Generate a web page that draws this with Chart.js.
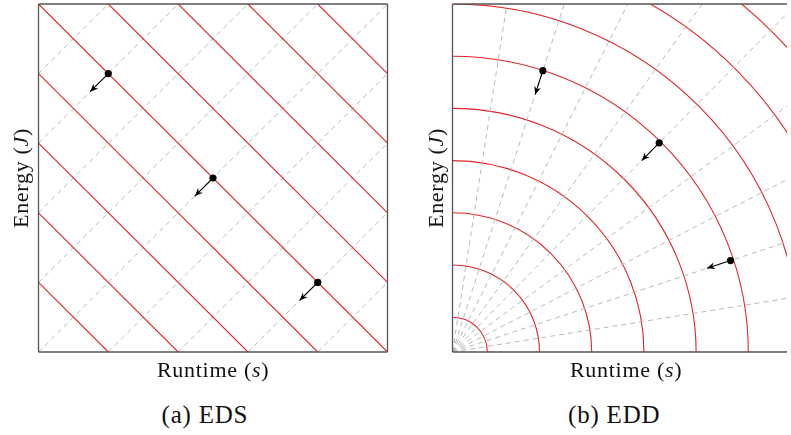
<!DOCTYPE html>
<html>
<head>
<meta charset="utf-8">
<script src="https://cdn.jsdelivr.net/npm/chart.js@4/dist/chart.umd.min.js"></script>
<style>
  html, body { margin: 0; padding: 0; width: 791px; height: 435px; overflow: hidden; background: #fff; }
  .cv { position: absolute; }
  .lbl { position: absolute; font-family: "Liberation Serif", "Times New Roman", serif; font-size: 22px; color: #111; white-space: nowrap; line-height: 1; letter-spacing: 0.7px; }
  .lbl i { font-style: italic; }
  .cap { font-size: 25px; letter-spacing: 0.8px; }
</style>
</head>
<body>
<canvas id="eds" class="cv" style="left:30px; top:0px;"></canvas>
<canvas id="edd" class="cv" style="left:440px; top:0px;"></canvas>

<div class="lbl" id="xl1">Runtime (<i>s</i>)</div>
<div class="lbl" id="xl2">Runtime (<i>s</i>)</div>
<div class="lbl" id="yl1">Energy (<i>J</i>)</div>
<div class="lbl" id="yl2">Energy (<i>J</i>)</div>
<div class="lbl cap" id="c1">(a) EDS</div>
<div class="lbl cap" id="c2">(b) EDD</div>

<script>
// ---------------- data ----------------
// (a) EDS: iso-cost lines  runtime + energy = level
const edsIsoLevels = [0.2, 0.4, 0.6, 0.8, 1.0, 1.2, 1.4, 1.6, 1.8];
// guide lines  energy - runtime = offset
const edsGuideOffsets = [-0.8, -0.6, -0.4, -0.2, 0.0, 0.2, 0.4, 0.6, 0.8];
// sample configurations
const edsPointRuntime = [0.2, 0.5, 0.8];
const edsPointEnergy  = [0.8, 0.5, 0.2];
// gradient step (runtime, energy)
const edsStepRuntime = [-0.052, -0.052, -0.052];
const edsStepEnergy  = [-0.052, -0.052, -0.052];

// (b) EDD: iso-cost arcs  sqrt(runtime^2 + energy^2) = radius
const eddIsoRadii = [0.1, 0.25, 0.4, 0.55, 0.7, 0.85, 1.0, 1.15, 1.3, 1.45];
// radial guide directions (degrees)
const eddGuideAngles = [0, 9, 18, 27, 36, 45, 54, 63, 72, 81, 90];
// sample configurations (polar: radius, angle in degrees)
const eddPointRadius = [0.85, 0.85, 0.85];
const eddPointAngle  = [72, 45, 18];
const eddStepLength  = [0.072, 0.072, 0.072];

// ---------------- styles ----------------
const RED = 'rgb(226,38,38)';
const GRAY = 'rgb(185,185,185)';
const FRAME = 'rgb(85,85,85)';

// ---------------- helpers ----------------
function clipSegmentSum(c) {           // x + y = c inside unit square
  return c <= 1 ? [{x: 0, y: c}, {x: c, y: 0}] : [{x: c - 1, y: 1}, {x: 1, y: c - 1}];
}
function clipSegmentDiff(d) {          // y - x = d inside unit square
  return d >= 0 ? [{x: 0, y: d}, {x: 1 - d, y: 1}] : [{x: -d, y: 0}, {x: 1, y: 1 + d}];
}
const rad = a => a * Math.PI / 180;

function framePlugin(sides) {
  return {
    id: 'frame',
    afterDraw(chart) {
      const {ctx, chartArea: a} = chart;
      ctx.save();
      ctx.strokeStyle = FRAME;
      ctx.lineWidth = 1.3;
      ctx.beginPath();
      if (sides.includes('l')) { ctx.moveTo(a.left, a.top); ctx.lineTo(a.left, a.bottom); }
      if (sides.includes('b')) { ctx.moveTo(a.left, a.bottom); ctx.lineTo(a.right, a.bottom); }
      if (sides.includes('t')) { ctx.moveTo(a.left, a.top); ctx.lineTo(a.right, a.top); }
      if (sides.includes('r')) { ctx.moveTo(a.right, a.top); ctx.lineTo(a.right, a.bottom); }
      ctx.stroke();
      ctx.restore();
    }
  };
}

const arrowHeadPlugin = {
  id: 'arrowHeads',
  afterDatasetsDraw(chart) {
    const {ctx} = chart;
    const xs = chart.scales.x, ys = chart.scales.y;
    chart.data.datasets.forEach(ds => {
      if (!ds.isArrow) return;
      const p0 = ds.data[0], p1 = ds.data[1];
      const x0 = xs.getPixelForValue(p0.x), y0 = ys.getPixelForValue(p0.y);
      const x1 = xs.getPixelForValue(p1.x), y1 = ys.getPixelForValue(p1.y);
      const ang = Math.atan2(y1 - y0, x1 - x0);
      const L = 8, W = 3.4;
      ctx.save();
      ctx.fillStyle = '#000';
      ctx.translate(x1, y1);
      ctx.rotate(ang);
      ctx.beginPath();
      ctx.moveTo(0, 0);
      ctx.lineTo(-L, -W);
      ctx.lineTo(-L * 0.7, 0);
      ctx.lineTo(-L, W);
      ctx.closePath();
      ctx.fill();
      ctx.restore();
    });
  }
};

const arcsPlugin = {
  id: 'isoArcs',
  beforeDatasetsDraw(chart) {
    const {ctx, chartArea: a} = chart;
    const xs = chart.scales.x, ys = chart.scales.y;
    const cx = xs.getPixelForValue(0), cy = ys.getPixelForValue(0);
    ctx.save();
    ctx.beginPath();
    ctx.rect(a.left, a.top, a.right - a.left, a.bottom - a.top);
    ctx.clip();
    ctx.strokeStyle = RED;
    ctx.lineWidth = 1.1;
    eddIsoRadii.forEach(r => {
      const pr = cy - ys.getPixelForValue(r);
      ctx.beginPath();
      ctx.arc(cx, cy, pr, -Math.PI / 2, 0);
      ctx.stroke();
    });
    ctx.restore();
  }
};

function lineDs(points, color, dash, width, order) {
  return {
    type: 'line', data: points, borderColor: color, borderWidth: width,
    borderDash: dash, pointRadius: 0, fill: false, tension: 0, clip: 0, order: order
  };
}

const commonOptions = (xmax, pad) => ({
  responsive: false,
  animation: false,
  events: [],
  layout: { padding: pad },
  plugins: { legend: { display: false }, tooltip: { enabled: false } },
  scales: {
    x: { type: 'linear', min: 0, max: xmax, display: false },
    y: { type: 'linear', min: 0, max: 1, display: false }
  }
});

// ---------------- (a) EDS ----------------
{
  const ds = [];
  edsGuideOffsets.forEach(d => ds.push(lineDs(clipSegmentDiff(d), GRAY, [5, 4], 1, 5)));
  edsIsoLevels.forEach(c => ds.push(lineDs(clipSegmentSum(c), RED, [], 1.1, 4)));
  edsPointRuntime.forEach((x, i) => {
    const y = edsPointEnergy[i];
    const a = lineDs([{x, y}, {x: x + edsStepRuntime[i], y: y + edsStepEnergy[i]}], '#000', [], 1.1, 2);
    a.isArrow = true;
    ds.push(a);
  });
  ds.push({
    type: 'scatter',
    data: edsPointRuntime.map((x, i) => ({x, y: edsPointEnergy[i]})),
    pointRadius: 3.6, pointBackgroundColor: '#000', pointBorderWidth: 0, order: 1
  });
  const cv = document.getElementById('eds');
  cv.width = 370; cv.height = 360;
  new Chart(cv, {
    type: 'scatter',
    data: { datasets: ds },
    options: commonOptions(1, { left: 8.5, top: 4, right: 12.5, bottom: 8 }),
    plugins: [arrowHeadPlugin, framePlugin('lbtr')]
  });
}

// ---------------- (b) EDD ----------------
{
  const xmax = 338.5 / 348;
  const ds = [];
  eddGuideAngles.forEach(a => ds.push(lineDs([{x: 0, y: 0}, {x: 1.6 * Math.cos(rad(a)), y: 1.6 * Math.sin(rad(a))}], GRAY, [5, 4], 1, 5)));
  eddPointRadius.forEach((r, i) => {
    const t = rad(eddPointAngle[i]);
    const r2 = r - eddStepLength[i];
    const a = lineDs([{x: r * Math.cos(t), y: r * Math.sin(t)}, {x: r2 * Math.cos(t), y: r2 * Math.sin(t)}], '#000', [], 1.1, 2);
    a.isArrow = true;
    ds.push(a);
  });
  ds.push({
    type: 'scatter',
    data: eddPointRadius.map((r, i) => ({x: r * Math.cos(rad(eddPointAngle[i])), y: r * Math.sin(rad(eddPointAngle[i]))})),
    pointRadius: 3.6, pointBackgroundColor: '#000', pointBorderWidth: 0, order: 1
  });
  const cv = document.getElementById('edd');
  cv.width = 351; cv.height = 360;
  new Chart(cv, {
    type: 'scatter',
    data: { datasets: ds },
    options: commonOptions(xmax, { left: 12.5, top: 4, right: 0, bottom: 8 }),
    plugins: [arcsPlugin, arrowHeadPlugin, framePlugin('lbt')]
  });
}

// ---------------- labels ----------------
function place(id, cx, cy, rot) {
  const el = document.getElementById(id);
  const w = el.offsetWidth, h = el.offsetHeight;
  el.style.left = (cx - w / 2) + 'px';
  el.style.top = (cy - h / 2) + 'px';
  if (rot) el.style.transform = 'rotate(' + rot + 'deg)';
}
place('xl1', 213, 370);
place('xl2', 626, 370);
place('yl1', 21, 178, -90);
place('yl2', 436, 178, -90);
place('c1', 205, 414);
place('c2', 614, 414);
</script>
</body>
</html>
